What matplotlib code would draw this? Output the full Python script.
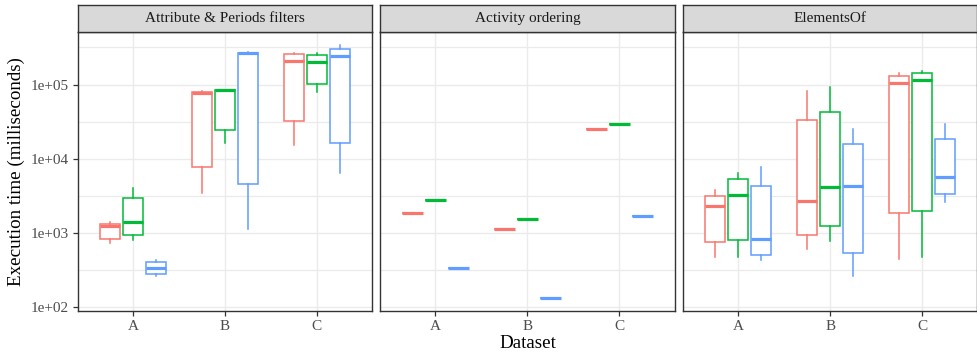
import matplotlib
matplotlib.use("Agg")
import matplotlib.pyplot as plt
from matplotlib.ticker import FixedLocator, NullFormatter

plt.rcParams["font.family"] = ["Liberation Serif", "DejaVu Serif"]

datasets = ["A", "B", "C"]
facets = ["Attribute & Periods filters", "Activity ordering", "ElementsOf"]
series_colors = ["#F8766D", "#00BA38", "#619CFF"]

# Five-number summaries (ms); rows = series (red, green, blue), columns = datasets A, B, C
attr_whislo = [[729, 3500, 15340], [800, 16470, 80000], [267, 1145, 6500]]
attr_q1 = [[833, 7690, 32270], [933, 24650, 101600], [279, 4580, 16150]]
attr_med = [[1258, 76000, 205000], [1397, 83200, 201000], [336, 263000, 244000]]
attr_q3 = [[1325, 80000, 254700], [2997, 84400, 251600], [405, 268000, 303000]]
attr_whishi = [[1397, 82600, 268000], [4010, 84400, 268000], [430, 273700, 343500]]

# Activity ordering: a single run per series and dataset
order_time = [[1866, 1125, 25400], [2790, 1549, 29100], [336, 135, 1700]]

elem_whislo = [[477, 617, 453], [477, 790, 481], [430, 265, 2597]]
elem_q1 = [[752, 933, 1846], [815, 1234, 1982], [512, 540, 3330]]
elem_med = [[2316, 2730, 103800], [3286, 4170, 115000], [833, 4305, 5740]]
elem_q3 = [[3130, 33270, 131300], [5300, 42650, 144200], [4265, 15670, 18300]]
elem_whishi = [[3770, 81700, 144200], [6440, 93400, 153500], [7690, 25180, 29100]]

y_major = [1e2, 1e3, 1e4, 1e5]
y_major_labels = ["1e+02", "1e+03", "1e+04", "1e+05"]
y_minor = [10 ** 2.5, 10 ** 3.5, 10 ** 4.5, 10 ** 5.5]

panel_stats = [
    (attr_whislo, attr_q1, attr_med, attr_q3, attr_whishi),
    (order_time, order_time, order_time, order_time, order_time),
    (elem_whislo, elem_q1, elem_med, elem_q3, elem_whishi),
]

W, H = 977, 355
fig = plt.figure(figsize=(W / 100, H / 100), dpi=100)

panel_w = 294.4
gap = 8.2
left0 = 77.7
top_px, bottom_px = 32.0, 311.0
strip_top = 5.3

dodge = [-0.25, 0.0, 0.25]
box_w = 0.225
lw = 1.1

for p, (title, stats) in enumerate(zip(facets, panel_stats)):
    x0 = left0 + p * (panel_w + gap)
    ax = fig.add_axes([x0 / W, 1 - bottom_px / H, panel_w / W, (bottom_px - top_px) / H])
    ax.set_yscale("log")
    ax.set_ylim(10 ** 1.952, 10 ** 5.707)
    ax.set_xlim(0.4, 3.6)
    ax.set_facecolor("white")
    ax.set_axisbelow(True)

    lo, q1, med, q3, hi = stats
    for s, color in enumerate(series_colors):
        bxp_stats = []
        for d in range(len(datasets)):
            bxp_stats.append(dict(whislo=lo[s][d], q1=q1[s][d], med=med[s][d],
                                  q3=q3[s][d], whishi=hi[s][d], fliers=[]))
        positions = [d + 1 + dodge[s] for d in range(len(datasets))]
        ax.bxp(bxp_stats, positions=positions, widths=box_w, patch_artist=True,
               showcaps=False, showfliers=False, manage_ticks=False,
               boxprops=dict(facecolor="white", edgecolor=color, linewidth=lw),
               whiskerprops=dict(color=color, linewidth=lw),
               medianprops=dict(color=color, linewidth=2.3, solid_capstyle="butt"))

    ax.set_xticks([1, 2, 3])
    ax.set_xticklabels(datasets)
    ax.yaxis.set_major_locator(FixedLocator(y_major))
    ax.yaxis.set_minor_locator(FixedLocator(y_minor))
    ax.yaxis.set_minor_formatter(NullFormatter())
    ax.tick_params(axis="both", which="major", labelsize=11, labelcolor="#4D4D4D",
                   color="#333333", width=0.9, length=3.8, pad=2.5)
    ax.tick_params(axis="y", which="minor", length=0)
    if p == 0:
        ax.set_yticklabels(y_major_labels)
    else:
        ax.set_yticklabels([])
        ax.tick_params(axis="y", which="major", length=0)

    ax.grid(True, which="major", color="#EBEBEB", linewidth=1.0)
    ax.grid(True, which="minor", axis="y", color="#EBEBEB", linewidth=0.9)
    for sp in ax.spines.values():
        sp.set_color("#333333")
        sp.set_linewidth(1.0)

    sax = fig.add_axes([x0 / W, 1 - top_px / H, panel_w / W, (top_px - strip_top) / H])
    sax.set_facecolor("#D9D9D9")
    sax.set_xticks([])
    sax.set_yticks([])
    for sp in sax.spines.values():
        sp.set_color("#333333")
        sp.set_linewidth(1.0)
    sax.text(0.5, 0.5, title, transform=sax.transAxes, ha="center", va="center",
             fontsize=11, color="#1A1A1A")

fig.text((left0 + (3 * panel_w + 2 * gap) / 2) / W, 1 - 343.5 / H, "Dataset",
         ha="center", va="center", fontsize=13.7)
fig.text(16 / W, 1 - ((top_px + bottom_px) / 2) / H, "Execution time (milliseconds)",
         ha="center", va="center", rotation=90, fontsize=13.7)

fig.savefig("out.png", dpi=100)
